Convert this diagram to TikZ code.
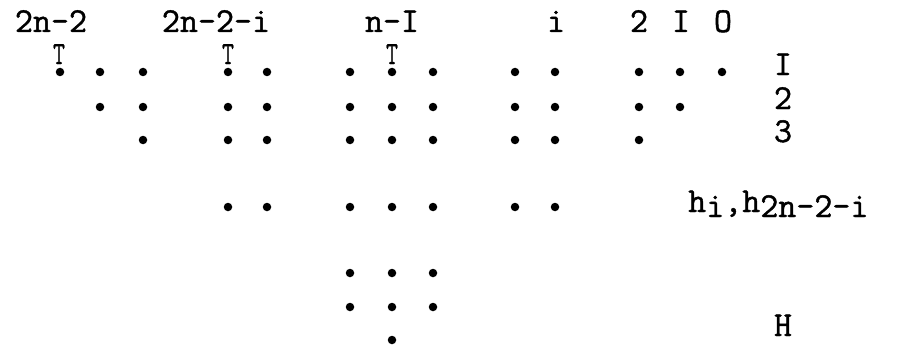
\documentclass[tikz,border=0pt]{standalone}
\usepackage{fontspec}
\setmonofont{Latin Modern Mono}[FakeBold=1.2]
\begin{document}
\begin{tikzpicture}[x=1pt,y=-1pt,
  dot/.style={circle,fill=black,inner sep=0pt,minimum size=8.5pt},
  lab/.style={inner sep=0pt,anchor=base,font=\fontsize{35}{40}\selectfont\ttfamily},
  tmark/.style={inner sep=0pt,anchor=base,font=\fontsize{24}{26}\selectfont\ttfamily}]
\useasboundingbox (0,0) rectangle (897,345);
% column headings
\node[lab] (h2n2)  at (51,32)  {2n-2};
\node[lab] (h2n2i) at (216,32) {2n-2-i};
\node[lab] (hn1)   at (392,32) {n-I};
\node[lab] (hi)    at (556,32) {i};
\node[lab] (h2)    at (639,32) {2};
\node[lab] (h1)    at (681,32) {I};
\node[lab] (h0)    at (723,32) {O};
% T marks
\node[tmark] (t1) at (59,64)  {\scalebox{0.95}[1.35]{T}};
\node[tmark] (t2) at (228,64) {\scalebox{0.95}[1.35]{T}};
\node[tmark] (t3) at (392,64) {\scalebox{0.95}[1.35]{T}};
% row labels
\node[lab] (r1) at (783,75)  {I};
\node[lab] (r2) at (783,109) {2};
\node[lab] (r3) at (783,142) {3};
\node[lab,anchor=base west] (rh) at (688,212) {h\raisebox{-5pt}{i},h\raisebox{-5pt}{2n-2-i}};
\node[lab] (rH) at (783,336) {H};
% dots
\foreach \x in {60,100,143,228,267,350,392,433,515,555,639,680,722}
  \node[dot] (a\x) at (\x,72) {};
\foreach \x in {100,143,228,267,350,392,433,515,555,639,680}
  \node[dot] (b\x) at (\x,107) {};
\foreach \x in {143,228,267,350,392,433,515,555,639}
  \node[dot] (c\x) at (\x,140) {};
\foreach \x in {228,267,350,392,433,515,555}
  \node[dot] (h\x) at (\x,207) {};
\foreach \x in {350,392,433}
  \node[dot] (p\x) at (\x,273) {};
\foreach \x in {350,392,433}
  \node[dot] (q\x) at (\x,307) {};
\node[dot] (z392) at (392,340) {};
\end{tikzpicture}
\end{document}
